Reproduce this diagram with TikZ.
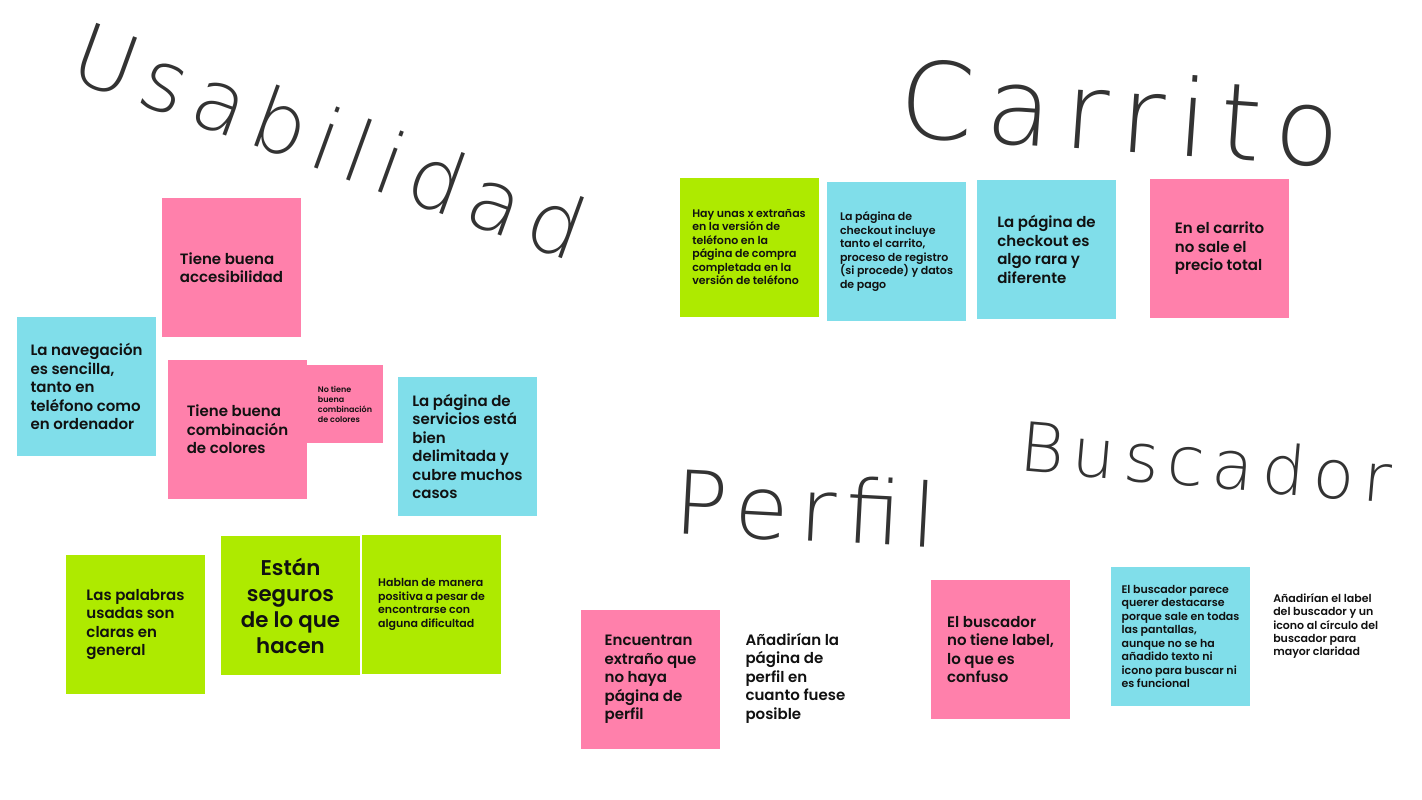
\documentclass[tikz,border=0pt]{standalone}
\usepackage{fontspec}
\setmainfont{Poppins SemiBold}
\newfontfamily\handfont{DejaVu Sans ExtraLight}[LetterSpace=12]
\usepackage{xcolor}
\usepackage{tikz}
\usetikzlibrary{positioning}
\definecolor{ink}{HTML}{111111}
\definecolor{pen}{HTML}{333333}
\definecolor{rosa}{HTML}{FF80AB}
\definecolor{cian}{HTML}{80DEEA}
\definecolor{lima}{HTML}{AEEA00}
\tikzset{
 note/.style={minimum width=104.25pt,minimum height=104.25pt,inner sep=0pt,align=left,text=ink},
 bigtxt/.style={font=\fontsize{11.25}{13.9}\selectfont},
 smalltxt/.style={font=\fontsize{8.25}{10.1}\selectfont},
 hand/.style={text=pen,inner sep=0pt,font=\handfont\fontsize{64}{64}\selectfont}
}

\begin{document}
\begin{tikzpicture}[x=0.75pt,y=-0.75pt]
\fill[white] (0,0) rectangle (1422,800);
\useasboundingbox (0,0) rectangle (1422,800);
% titles
\node[hand,rotate=-20] (tusa) at (330,140) {Usabilidad};
\node[hand,font=\handfont\fontsize{80}{80}\selectfont,rotate=-4] (tcar) at (1120,112) {Carrito};
\node[hand,font=\handfont\fontsize{66}{66}\selectfont,rotate=-3] (tper) at (806,508) {Perfil};
\node[hand,font=\handfont\fontsize{51}{51}\selectfont,rotate=-5] (tbus) at (1206,462) {Buscador};
% usabilidad
\node[note,fill=rosa,bigtxt] (acc) at (231.5,267.5) {Tiene buena\\accesibilidad};
\node[note,fill=cian,bigtxt] (nav) at (86.5,386.5) {La navegación\\es sencilla,\\tanto en\\teléfono como\\en ordenador};
\node[note,fill=rosa,bigtxt] (comb) at (237.5,429.5) {Tiene buena\\combinación\\de colores};
\node[note,fill=rosa,minimum width=57pt,minimum height=58.5pt,font=\fontsize{6}{7.5}\selectfont] (nocomb) at (345,404) {No tiene\\buena\\combinación\\de colores};
\node[note,fill=cian,bigtxt] (serv) at (467.5,446.5) {La página de\\servicios está\\bien\\delimitada y\\cubre muchos\\casos};
\node[note,fill=lima,bigtxt] (pal) at (135.5,624.5) {Las palabras\\usadas son\\claras en\\general};
\node[note,fill=lima,align=center,font=\fontsize{16}{19.5}\selectfont] (seg) at (290.5,605.5) {Están\\seguros\\de lo que\\hacen};
\node[note,fill=lima,smalltxt] (habl) at (431.5,604.5) {Hablan de manera\\positiva a pesar de\\encontrarse con\\alguna dificultad};
% carrito
\node[note,fill=lima,smalltxt] (xext) at (749,247) {Hay unas x extrañas\\en la versión de\\teléfono en la\\página de compra\\completada en la\\versión de teléfono};
\node[note,fill=cian,smalltxt] (chkinc) at (896.5,251.5) {La página de\\checkout incluye\\tanto el carrito,\\proceso de registro\\(si procede) y datos\\de pago};
\node[note,fill=cian,bigtxt] (chkrara) at (1046.5,249.5) {La página de\\checkout es\\algo rara y\\diferente};
\node[note,fill=rosa,bigtxt] (prec) at (1219.5,248.5) {En el carrito\\no sale el\\precio total};
% perfil
\node[note,fill=rosa,bigtxt] (extr) at (650.5,679.5) {Encuentran\\extraño que\\no haya\\página de\\perfil};
\node[align=left,text=ink,bigtxt,inner sep=0pt,right=18.75pt of extr,yshift=1pt] (anperf) {Añadirían la\\página de\\perfil en\\cuanto fuese\\posible};
% buscador
\node[note,fill=rosa,bigtxt] (lab) at (1000.5,649.5) {El buscador\\no tiene label,\\lo que es\\confuso};
\node[note,fill=cian,smalltxt] (bpar) at (1180.5,636.5) {El buscador parece\\querer destacarse\\porque sale en todas\\las pantallas,\\aunque no se ha\\añadido texto ni\\icono para buscar ni\\es funcional};
\node[align=left,text=ink,smalltxt,inner sep=0pt,anchor=west] (anlab) at (1273,626) {Añadirían el label\\del buscador y un\\icono al círculo del\\buscador para\\mayor claridad};
\end{tikzpicture}
\end{document}
